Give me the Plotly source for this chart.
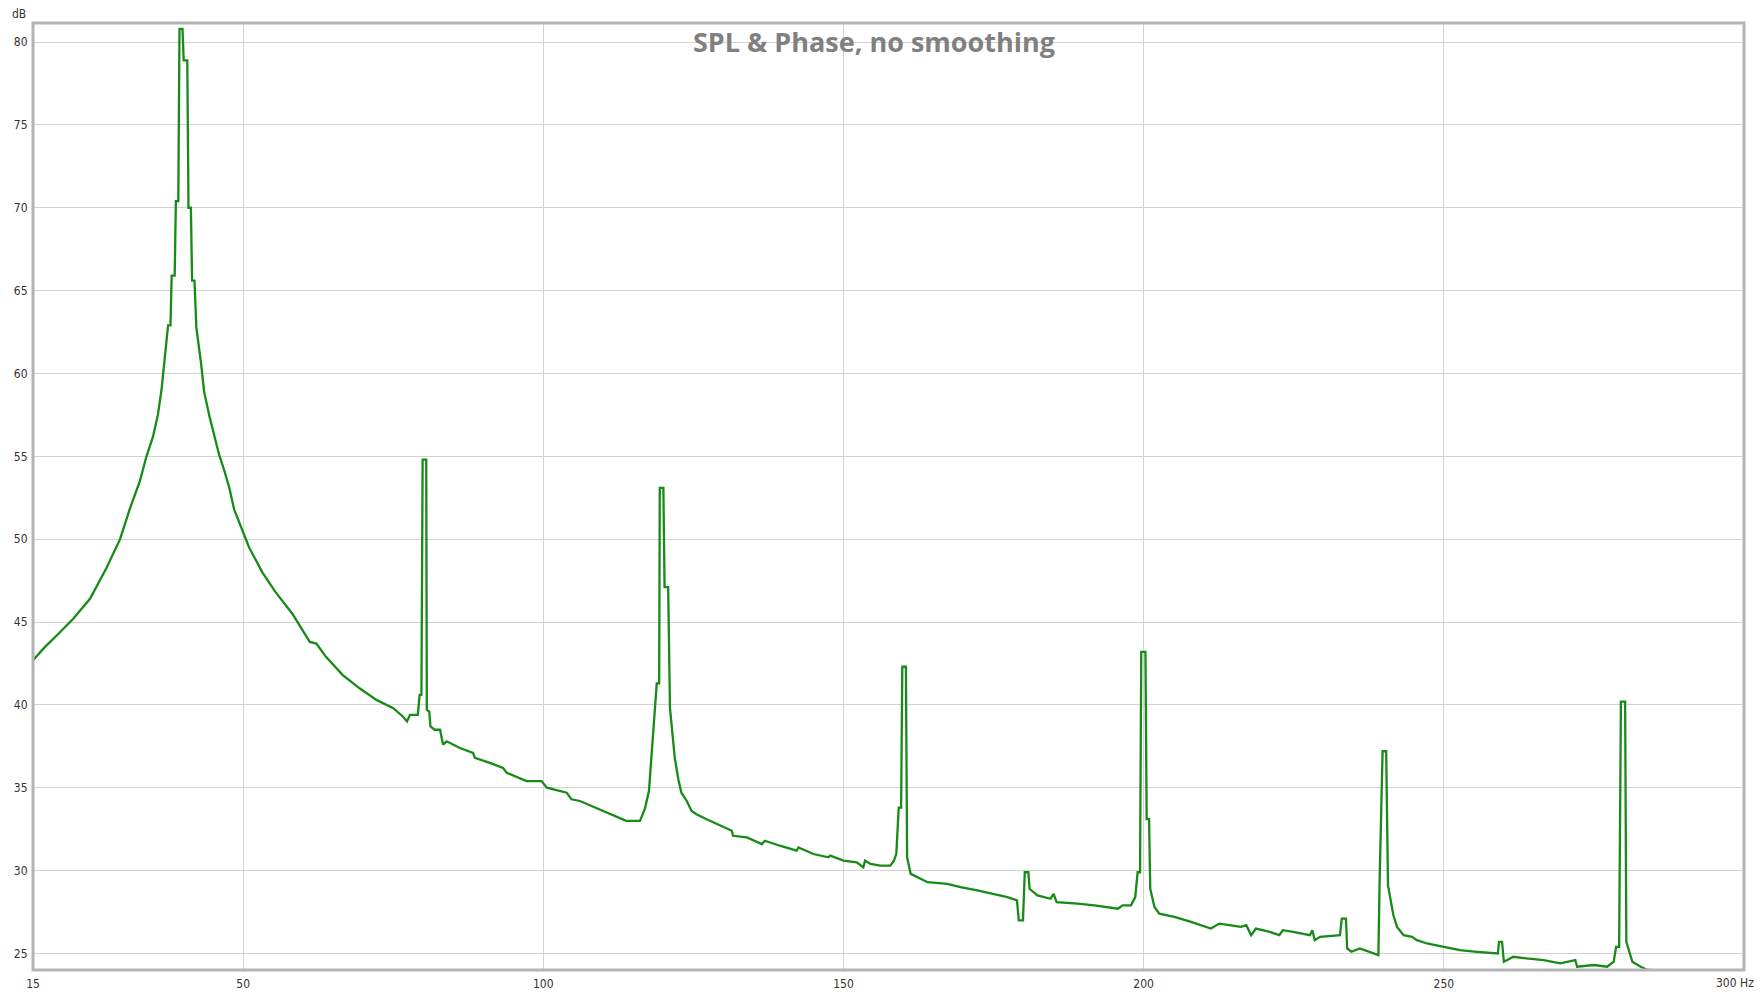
import plotly.graph_objects as go

# Frequency (Hz) and SPL (dB)
freq = [15.0, 17.0, 19.0, 21.7, 24.5, 27.3, 29.5, 31.1, 32.8, 33.9, 35.0, 35.8, 36.4, 36.9,
        37.5, 37.9, 38.1, 38.6, 38.8, 39.2, 39.4, 39.9, 40.1, 40.7, 40.9, 41.3, 41.5, 41.9,
        42.2, 43.0, 43.5, 44.4, 45.2, 46.0, 46.9, 47.7, 48.5, 49.9, 51.0, 53.2, 55.4, 58.2,
        59.4, 61.1, 62.2, 63.8, 66.6, 69.4, 72.2, 75.0, 76.6, 77.3, 77.8, 79.1, 79.4, 79.7,
        79.9, 80.5, 80.6, 81.0, 81.2, 81.9, 82.8, 83.3, 83.9, 86.1, 88.3, 88.6, 91.1, 93.3,
        93.9, 97.2, 99.7, 100.6, 103.9, 104.7, 106.1, 109.4, 110.5, 113.8, 116.1, 116.9,
        117.6, 118.1, 118.9, 119.3, 119.4, 120.0, 120.2, 120.8, 121.1, 121.9, 122.5, 123.0,
        123.9, 124.7, 125.5, 127.2, 130.0, 131.4, 131.6, 133.9, 136.4, 136.9, 139.4, 142.2,
        142.5, 145.0, 147.5, 147.8, 150.0, 152.2, 153.3, 153.6, 154.5, 156.1, 157.8, 158.4,
        158.8, 159.2, 159.6, 159.8, 160.4, 160.6, 161.2, 162.3, 164.0, 167.3, 169.5, 172.3,
        175.1, 177.3, 178.9, 179.2, 179.9, 180.2, 180.8, 181.0, 182.3, 184.5, 185.0, 185.5,
        189.0, 191.8, 195.7, 196.5, 197.9, 198.6, 199.0, 199.4, 199.6, 200.3, 200.5, 200.9,
        201.1, 201.8, 202.6, 205.1, 207.9, 211.2, 212.6, 216.2, 217.1, 217.9, 218.7, 221.0,
        222.6, 223.2, 224.9, 227.7, 228.1, 228.5, 229.4, 232.7, 233.0, 233.7, 233.9, 234.6,
        236.0, 238.5, 239.1, 239.3, 239.8, 240.4, 240.7, 241.6, 242.2, 243.3, 244.7, 245.5,
        247.2, 250.0, 252.7, 255.5, 259.0, 259.2, 259.7, 260.0, 261.6, 263.8, 266.6, 269.4,
        271.9, 272.2, 275.0, 277.2, 278.3, 278.7, 279.2, 279.5, 280.2, 280.4, 281.4, 282.8,
        283.9, 287.2, 290.0, 300.0]
spl = [42.7, 43.5, 44.2, 45.2, 46.4, 48.3, 50.0, 51.8, 53.5, 55.0, 56.2, 57.5, 59.0, 60.8,
       62.9, 62.9, 65.9, 65.9, 70.4, 70.4, 80.8, 80.8, 78.9, 78.9, 70.0, 70.0, 65.6, 65.6,
       62.8, 60.6, 58.9, 57.4, 56.3, 55.1, 54.1, 53.1, 51.8, 50.5, 49.5, 48.0, 46.8, 45.5,
       44.8, 43.8, 43.7, 42.9, 41.8, 41.0, 40.3, 39.8, 39.3, 39.0, 39.4, 39.4, 40.6, 40.6,
       54.8, 54.8, 39.7, 39.6, 38.7, 38.5, 38.5, 37.6, 37.8, 37.4, 37.1, 36.8, 36.5, 36.2,
       35.9, 35.4, 35.4, 35.0, 34.7, 34.3, 34.2, 33.7, 33.5, 33.0, 33.0, 33.7,
       34.8, 37.1, 41.3, 41.3, 53.1, 53.1, 47.1, 47.1, 39.8, 36.8, 35.5, 34.7,
       34.2, 33.6, 33.4, 33.1, 32.6, 32.4, 32.1, 32.0, 31.6, 31.8, 31.5, 31.2,
       31.4, 31.0, 30.8, 30.9, 30.6, 30.5, 30.2, 30.6, 30.4, 30.3, 30.3, 30.6,
       31.0, 33.8, 33.8, 42.3, 42.3, 30.8, 29.8, 29.6, 29.3, 29.2, 29.0, 28.8,
       28.6, 28.4, 28.2, 27.0, 27.0, 29.9, 29.9, 28.9, 28.5, 28.3, 28.6, 28.1,
       28.0, 27.9, 27.7, 27.9, 27.9, 28.4, 29.9, 29.9, 43.2, 43.2, 33.1, 33.1,
       28.9, 27.8, 27.4, 27.2, 26.9, 26.5, 26.8, 26.6, 26.7, 26.1, 26.5, 26.3,
       26.1, 26.4, 26.3, 26.1, 26.4, 25.8, 26.0, 26.1, 27.1, 27.1, 25.3, 25.1,
       25.3, 25.0, 24.9, 29.3, 37.2, 37.2, 29.1, 27.3, 26.6, 26.1, 26.0, 25.8,
       25.6, 25.4, 25.2, 25.1, 25.0, 25.7, 25.7, 24.5, 24.8, 24.7, 24.6, 24.4,
       24.6, 24.2, 24.3, 24.2, 24.5, 25.4, 25.4, 40.2, 40.2, 25.7, 24.5, 24.2,
       24.0, 23.95, 23.7, 23.3]

x_tickvals = [15, 50, 100, 150, 200, 250]
x_ticktext = ["15", "50", "100", "150", "200", "250"]
x_end_label = "300 Hz"
y_tickvals = [25, 30, 35, 40, 45, 50, 55, 60, 65, 70, 75, 80]
title_text = "SPL & Phase, no smoothing"

fig = go.Figure()
fig.add_trace(go.Scatter(x=freq, y=spl, mode="lines",
                         line=dict(color="#178a17", width=2.3), hoverinfo="x+y"))

tick_font = dict(family="DejaVu Sans Condensed, DejaVu Sans, sans-serif", size=12, color="#333333")

# the page body has an 8px default margin, so the figure is sized to fit inside the window
fig.update_layout(
    width=1756, height=986,
    margin=dict(l=25, r=20, t=15, b=24, autoexpand=False),
    paper_bgcolor="white", plot_bgcolor="white",
    showlegend=False,
    xaxis=dict(range=[15, 300], tickvals=x_tickvals, ticktext=x_ticktext,
               showgrid=True, gridcolor="#d2d2d2", gridwidth=1, automargin=False,
               zeroline=False, showline=False, ticks="outside", ticklen=3,
               tickcolor="rgba(0,0,0,0)", tickfont=tick_font),
    yaxis=dict(range=[24.0, 81.15], tickvals=y_tickvals,
               showgrid=True, gridcolor="#d2d2d2", gridwidth=1, automargin=False,
               zeroline=False, showline=False, ticks="outside", ticklen=2,
               tickcolor="rgba(0,0,0,0)", tickfont=tick_font),
    annotations=[
        dict(text="<b>" + title_text + "</b>", xref="paper", yref="paper",
             x=0.4913, y=0.98, xanchor="center", yanchor="middle", showarrow=False,
             font=dict(family="Open Sans, sans-serif", size=27, color="#808080")),
        dict(text="dB", xref="paper", yref="paper", x=-0.003, y=1.0, yshift=9,
             xanchor="right", yanchor="middle", showarrow=False,
             font=tick_font),
        dict(text=x_end_label, xref="paper", yref="paper", x=1.0, y=0.0,
             xshift=11, yshift=-13, xanchor="right", yanchor="middle",
             showarrow=False, borderpad=0, font=tick_font),
    ],
    shapes=[
        dict(type="rect", xref="paper", yref="paper", x0=0, x1=1, y0=0, y1=1,
             line=dict(color="#b4b4b4", width=3), layer="above"),
    ],
)

fig.write_html("out.html")
